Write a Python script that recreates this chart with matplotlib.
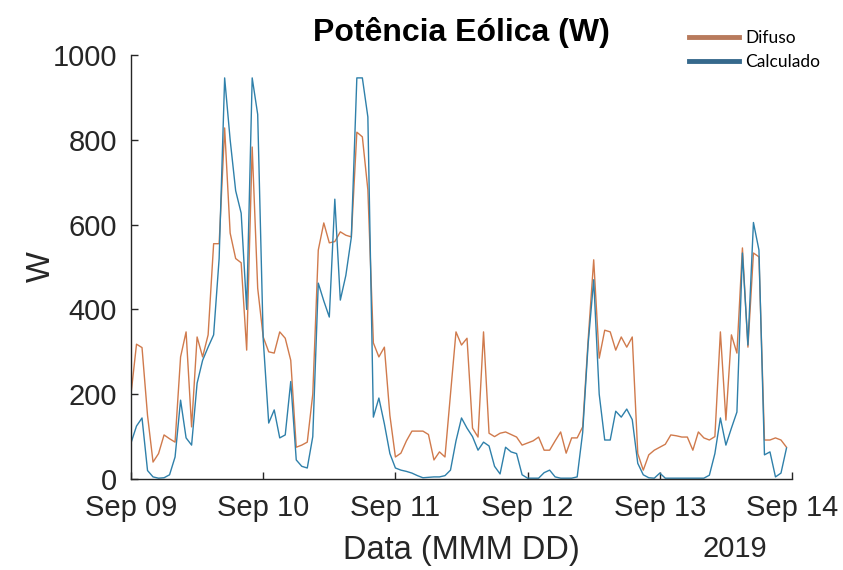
import matplotlib
matplotlib.use("Agg")
import matplotlib.pyplot as plt
import matplotlib.dates as mdates
from matplotlib.lines import Line2D
import numpy as np
import pandas as pd

plt.rcParams['font.family'] = ['Liberation Sans', 'DejaVu Sans']

# hourly values, Sep 09 00:00 -> Sep 13 23:00
difuso = [200, 318, 310, 150, 40, 60, 104, 95, 87, 288,
          347, 123, 335, 288, 340, 555, 555, 828, 580, 520,
          510, 304, 783, 450, 335, 300, 297, 347, 332, 280,
          75, 80, 87, 200, 540, 604, 557, 560, 583, 575,
          571, 818, 807, 682, 321, 288, 311, 150, 52, 61,
          90, 113, 113, 113, 105, 45, 64, 52, 200, 347,
          316, 332, 120, 99, 347, 108, 100, 108, 111, 105,
          99, 80, 85, 90, 99, 68, 68, 90, 111, 61,
          97, 97, 123, 330, 517, 285, 351, 347, 304, 335,
          311, 335, 60, 21, 57, 68, 75, 82, 104, 102,
          99, 99, 68, 111, 97, 92, 100, 347, 139, 340,
          297, 545, 311, 533, 524, 92, 92, 97, 92, 75]

calculado = [85, 125, 144, 20, 5, 2, 3, 10, 52, 186,
             97, 80, 226, 280, 311, 340, 520, 946, 800, 680,
             627, 400, 946, 860, 330, 132, 163, 97, 104, 230,
             45, 30, 26, 100, 462, 420, 382, 660, 422, 480,
             570, 946, 946, 854, 146, 191, 130, 60, 26, 21,
             18, 14, 8, 3, 4, 5, 5, 8, 21, 90,
             144, 120, 100, 68, 87, 78, 30, 12, 75, 64,
             60, 10, 2, 2, 2, 15, 21, 5, 2, 2,
             2, 5, 110, 320, 470, 200, 92, 92, 160, 146,
             165, 140, 37, 10, 3, 2, 14, 2, 2, 2,
             2, 2, 2, 2, 2, 9, 60, 144, 80, 120,
             158, 533, 316, 605, 540, 57, 64, 5, 14, 73]

tempo = pd.date_range('2019-09-09 00:00', periods=len(difuso), freq='h')

cor_dif = '#D07A4C'
cor_calc = '#2F80AA'

fig = plt.figure(figsize=(8.43, 5.70), dpi=100)
ax = fig.add_axes([0.1554, 0.1596, 0.7841, 0.7439])

ax.plot(tempo, difuso, color=cor_dif, lw=1.0)
ax.plot(tempo, calculado, color=cor_calc, lw=1.0)

ax.set_xlim(pd.Timestamp('2019-09-09'), pd.Timestamp('2019-09-14'))
ax.set_ylim(0, 1000)
ax.set_yticks([0, 200, 400, 600, 800, 1000])
ax.xaxis.set_major_locator(mdates.DayLocator())
ax.xaxis.set_major_formatter(mdates.DateFormatter('%b %d'))

for s in ['top', 'right']:
    ax.spines[s].set_visible(False)
for s in ['bottom', 'left']:
    ax.spines[s].set_color('#262626')
    ax.spines[s].set_linewidth(1.0)
ax.tick_params(direction='in', length=5, width=1.0, colors='#262626',
               labelsize=21)
ax.tick_params(axis='x', pad=11)
ax.tick_params(axis='y', pad=10)

ax.set_title('Potência Eólica (W)', fontsize=23, fontweight='bold', pad=10)
ax.set_xlabel('Data (MMM DD)', fontsize=23.5, color='#262626', labelpad=9)
ax.set_ylabel('W', fontsize=23.5, color='#262626', labelpad=-3)
fig.text(735 / 843, 1 - 549 / 570, '2019', fontsize=21, color='#262626',
         ha='center', va='center')

handles = [Line2D([], [], color='#B87A5C', lw=3.5),
           Line2D([], [], color='#36698C', lw=3.5)]
fig.legend(handles, ['Difuso', 'Calculado'], loc='upper left',
           bbox_to_anchor=(673 / 843, 1 - 14 / 570), frameon=False,
           prop={'family': 'Lato', 'size': 12.5}, handlelength=2.9,
           handletextpad=0.35, labelspacing=0.5)

fig.savefig('out.png', dpi=100)
